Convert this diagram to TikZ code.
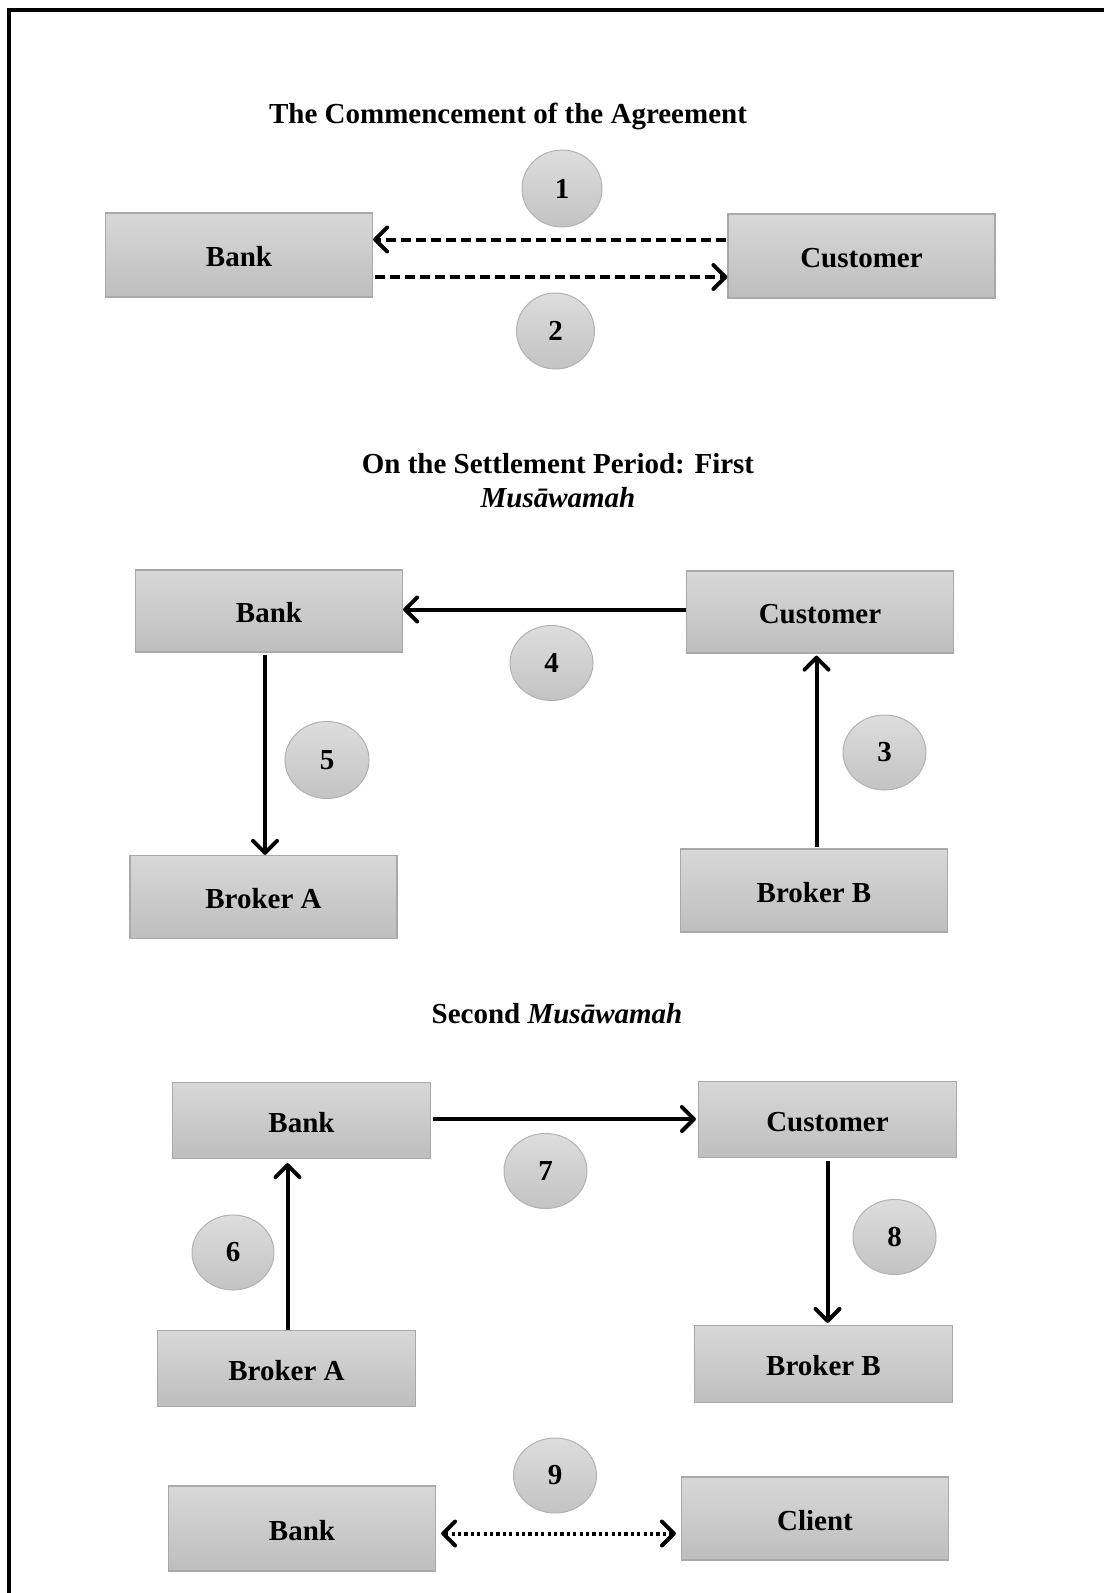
\documentclass[tikz,border=0pt]{standalone}
\usepackage{fontspec}
\setmainfont{Liberation Serif}
\usetikzlibrary{arrows.meta,shapes.geometric}
\definecolor{boxtop}{HTML}{D8D8D8}
\definecolor{boxbot}{HTML}{BEBEBE}
\definecolor{boxline}{HTML}{A9A9A9}
\definecolor{dottop}{HTML}{DDDDDD}
\definecolor{dotbot}{HTML}{C3C3C3}
\definecolor{dotline}{HTML}{B2B2B2}
\tikzset{
  lbl/.style={font=\fontsize{29}{34}\selectfont\bfseries},
  party/.style={rectangle, draw=boxline, line width=1.2pt, top color=boxtop, bottom color=boxbot,
    inner sep=0pt, text height=23pt, text depth=0pt, lbl},
  wide/.style={party, minimum width=267pt, minimum height=83pt},
  narrow/.style={party, minimum width=258pt, minimum height=76pt},
  stepno/.style={ellipse, draw=dotline, line width=1pt, top color=dottop, bottom color=dotbot,
    inner sep=0pt, minimum width=83pt, minimum height=76pt, lbl},
  barb/.tip={Straight Barb[length=12pt,width=24pt,round]},
  flow/.style={line width=4pt, -barb},
  dashflow/.style={flow, dash pattern=on 10pt off 5pt},
  dotflow/.style={line width=4pt, dash pattern=on 3.2pt off 3.2pt, barb-barb},
}
\begin{document}
\begin{tikzpicture}[x=1pt,y=-1pt]
\useasboundingbox (0,0) rectangle (1104,1593);
% page frame: top and left rules
\draw[line width=4pt] (9,1593) -- (9,10) -- (1104,10);

% ---- commencement of the agreement ----
\node[lbl] (t1) at (508,116) {The Commencement of the Agreement};
\node[wide, minimum height=84pt] (b1) at (239,255) {Bank};
\node[wide, minimum height=84pt] (c1) at (861.5,256) {Customer};
\node[stepno, minimum width=80pt, minimum height=77pt] (n1) at (562,188.5) {1};
\node[stepno, minimum width=78pt] (n2) at (555.5,331) {2};
\coordinate (y1) at (0,239.5);
\coordinate (y2) at (0,277);
\draw[dashflow, shorten <=1pt] (c1.west |- y1) -- (b1.east |- y1);
\draw[dashflow, shorten <=2pt] (b1.east |- y2) -- (c1.west |- y2);

% ---- first musawamah ----
\node[lbl, align=center] (t2) at (558,481) {On the Settlement Period: First\\\textit{Musāwamah}};
\node[wide, minimum height=82pt] (b2) at (269,611) {Bank};
\node[wide, minimum height=82pt] (c2) at (820,612) {Customer};
\node[wide] (ba2) at (263.5,897) {Broker A};
\node[wide] (bb2) at (814,890.5) {Broker B};
\node[stepno, minimum height=75pt] (n4) at (551.5,663) {4};
\node[stepno, minimum width=84pt, minimum height=77pt] (n5) at (327,760) {5};
\node[stepno, minimum height=75pt] (n3) at (884.5,752.5) {3};
\coordinate (y4) at (0,609.5);
\coordinate (x5) at (265,0);
\coordinate (x3) at (816.5,0);
\draw[flow] (c2.west |- y4) -- (b2.east |- y4);
\draw[flow, shorten <=2pt] (b2.south -| x5) -- (ba2.north -| x5);
\draw[flow, shorten <=1pt, shorten >=2pt] (bb2.north -| x3) -- (c2.south -| x3);

% ---- second musawamah ----
\node[lbl] (t3) at (557,1014) {Second \textit{Musāwamah}};
\node[narrow] (b3) at (301.5,1120.5) {Bank};
\node[narrow] (c3) at (827.5,1119.5) {Customer};
\node[narrow] (ba3) at (286.5,1368.5) {Broker A};
\node[narrow, minimum height=77pt] (bb3) at (823.5,1364) {Broker B};
\node[stepno, minimum height=75pt] (n7) at (545.5,1171) {7};
\node[stepno, minimum width=82pt, minimum height=75pt] (n6) at (233,1252.5) {6};
\node[stepno, minimum height=75pt] (n8) at (894.5,1237) {8};
\coordinate (y7) at (0,1119);
\coordinate (x6) at (287.5,0);
\coordinate (x8) at (827.5,0);
\draw[flow, shorten <=2pt, shorten >=2pt] (b3.east |- y7) -- (c3.west |- y7);
\draw[flow, shorten >=4pt] (ba3.north -| x6) -- (b3.south -| x6);
\draw[flow, shorten <=3pt, shorten >=2pt] (c3.south -| x8) -- (bb3.north -| x8);

% ---- bank and client ----
\node[wide, minimum height=85pt] (b4) at (302,1528.5) {Bank};
\node[wide] (cl) at (815,1518.5) {Client};
\node[stepno, minimum height=75pt] (n9) at (555,1475.5) {9};
\coordinate (y9) at (0,1533.5);
\draw[dotflow, shorten <=5pt, shorten >=5pt] (b4.east |- y9) -- (cl.west |- y9);
\end{tikzpicture}
\end{document}
